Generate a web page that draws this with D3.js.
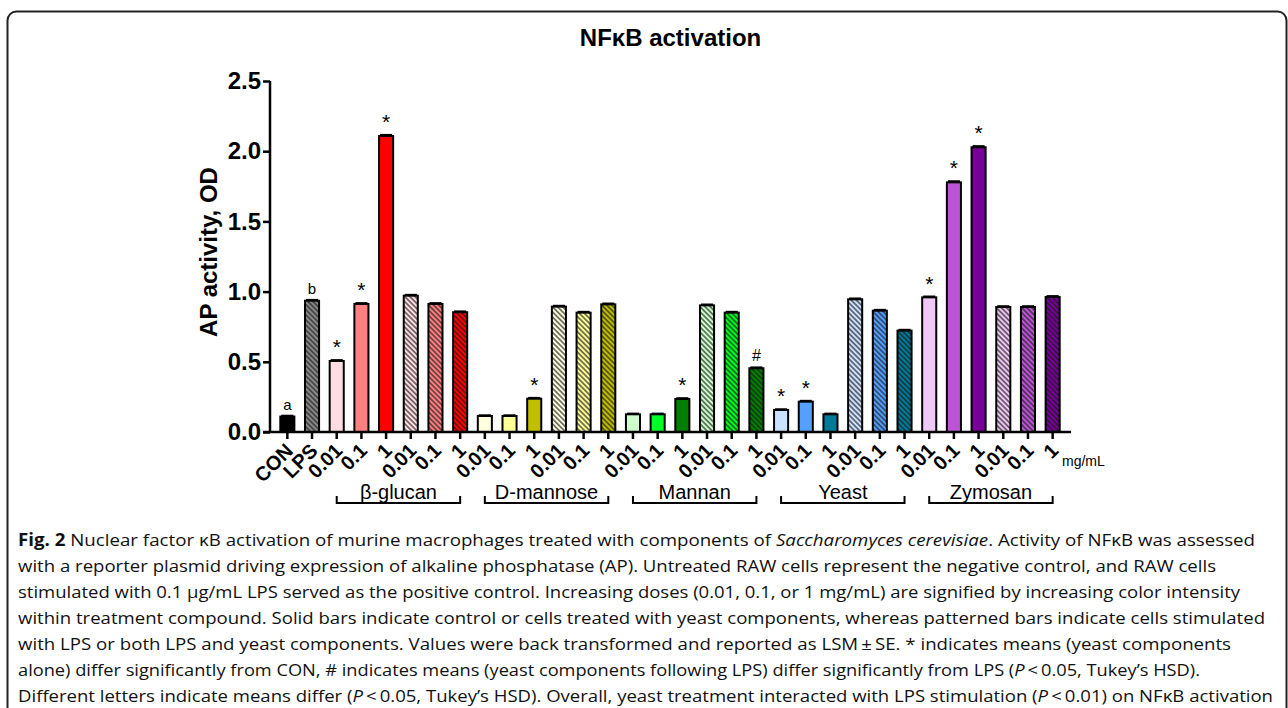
<!DOCTYPE html>
<html>
<head>
<meta charset="utf-8">
<script src="https://cdn.jsdelivr.net/npm/d3@7"></script>
<style>
  body { margin: 0; background: #fff; }
  svg { display: block; }
</style>
</head>
<body>
<div id="chart"></div>
<script>
// tick labels along the x axis (one per bar)
const tickLabels = ['CON', 'LPS',
  '0.01', '0.1', '1', '0.01', '0.1', '1',
  '0.01', '0.1', '1', '0.01', '0.1', '1',
  '0.01', '0.1', '1', '0.01', '0.1', '1',
  '0.01', '0.1', '1', '0.01', '0.1', '1',
  '0.01', '0.1', '1', '0.01', '0.1', '1'];
const groups = ['β-glucan', 'D-mannose', 'Mannan', 'Yeast', 'Zymosan'];
// 1 = cells stimulated with LPS (patterned bars)
const withLps = [0, 1,
  0, 0, 0, 1, 1, 1,
  0, 0, 0, 1, 1, 1,
  0, 0, 0, 1, 1, 1,
  0, 0, 0, 1, 1, 1,
  0, 0, 0, 1, 1, 1];
const values = [0.11, 0.935,
  0.506, 0.912, 2.108, 0.971, 0.912, 0.853,
  0.114, 0.114, 0.237, 0.893, 0.850, 0.909,
  0.126, 0.126, 0.235, 0.902, 0.850, 0.454,
  0.157, 0.216, 0.126, 0.945, 0.864, 0.722,
  0.959, 1.778, 2.028, 0.890, 0.890, 0.962];
const se = [0.006, 0.006,
  0.006, 0.006, 0.008, 0.006, 0.006, 0.006,
  0.005, 0.005, 0.006, 0.006, 0.006, 0.006,
  0.005, 0.005, 0.006, 0.006, 0.006, 0.006,
  0.005, 0.006, 0.005, 0.006, 0.006, 0.006,
  0.006, 0.008, 0.008, 0.006, 0.006, 0.006];
const marks = ['a', 'b',
  '*', '*', '*', '', '', '',
  '', '', '*', '', '', '',
  '', '', '*', '', '', '#',
  '*', '*', '', '', '', '',
  '*', '*', '*', '', '', ''];
const yTicks = [0, 0.5, 1.0, 1.5, 2.0, 2.5];

// colours: control, LPS, then three doses per compound
const ctrlColors = ['#000000', '#8a8a8a'];
const groupColors = [
  ['#ffdde3', '#ff8080', '#ff0000'],
  ['#ffffe0', '#ffff99', '#bfbf00'],
  ['#ccffcc', '#00ff22', '#008000'],
  ['#cce0ff', '#55a0ff', '#007a99'],
  ['#f0c8f5', '#bb55d5', '#770099']
];

function barColor(i) {
    if (i < 2) return ctrlColors[i];
    const g = Math.floor((i - 2) / 6);
    const dose = (i - 2) % 3;
    return groupColors[g][dose];
}

const W = 1288, H = 708;
const svg = d3.select('#chart').append('svg')
    .attr('width', W)
    .attr('height', H)
    .style('font-family', 'Arial, "Liberation Sans", sans-serif');

// outer frame (rounded box, running off the bottom)
svg.append('rect')
    .attr('x', 7.5).attr('y', 11.5)
    .attr('width', 1279).attr('height', 760)
    .attr('rx', 9)
    .attr('fill', 'none')
    .attr('stroke', '#222')
    .attr('stroke-width', 2);

const x = d3.scaleBand()
    .domain(d3.range(values.length))
    .range([275, 1065])
    .paddingInner(0.43)
    .paddingOuter(0.215);
const y = d3.scaleLinear().domain([0, 2.5]).range([432, 81]);

const axisLeftX = 270, axisRightX = 1071;

// hatch patterns for LPS-stimulated bars
const defs = svg.append('defs');
values.forEach((v, i) => {
    if (!withLps[i]) return;
    const p = defs.append('pattern')
        .attr('id', 'hatch-' + i)
        .attr('patternUnits', 'userSpaceOnUse')
        .attr('width', 3.6).attr('height', 3.6)
        .attr('patternTransform', 'rotate(-45)');
    p.append('rect').attr('width', 3.6).attr('height', 3.6).attr('fill', barColor(i));
    p.append('line')
        .attr('x1', 0.9).attr('y1', 0).attr('x2', 0.9).attr('y2', 3.6)
        .attr('stroke', '#1a1a1a').attr('stroke-width', 1.3).attr('stroke-opacity', 0.85);
});

// title
svg.append('text')
    .attr('x', (axisLeftX + axisRightX) / 2)
    .attr('y', 46)
    .attr('text-anchor', 'middle')
    .style('font-size', '24px')
    .style('font-weight', 'bold')
    .text('NFκB activation');

// bars
svg.append('g').selectAll('rect')
    .data(values)
    .enter().append('rect')
    .attr('x', (d, i) => x(i))
    .attr('y', d => y(d))
    .attr('width', x.bandwidth())
    .attr('height', d => y(0) - y(d))
    .attr('fill', (d, i) => withLps[i] ? 'url(#hatch-' + i + ')' : barColor(i))
    .attr('stroke', '#000')
    .attr('stroke-width', 2);

// error bars (SE), upper half only
const eb = svg.append('g').attr('stroke', '#000').attr('stroke-width', 2);
values.forEach((v, i) => {
    const cx = x(i) + x.bandwidth() / 2;
    eb.append('line').attr('x1', cx).attr('x2', cx).attr('y1', y(v)).attr('y2', y(v + se[i]));
    eb.append('line')
        .attr('x1', cx - x.bandwidth() / 2 + 1).attr('x2', cx + x.bandwidth() / 2 - 1)
        .attr('y1', y(v + se[i])).attr('y2', y(v + se[i]));
});

// significance marks
svg.append('g').selectAll('text')
    .data(marks)
    .enter().append('text')
    .attr('x', (d, i) => x(i) + x.bandwidth() / 2)
    .attr('y', (d, i) => {
        const top = y(values[i] + se[i]);
        if (d === '*') return top - 6;
        return top - 6;
    })
    .attr('text-anchor', 'middle')
    .style('font-size', d => d === '*' ? '21px' : (d === '#' ? '16px' : '15px'))
    .text(d => d);

// y axis
const yAxis = svg.append('g')
    .attr('transform', `translate(${axisLeftX},0)`)
    .call(d3.axisLeft(y).tickValues(yTicks).tickFormat(d3.format('.1f')).tickSize(7).tickSizeOuter(0));
yAxis.select('.domain').attr('stroke-width', 2.5).attr('d', `M0,${y(2.5)}V${y(0) + 1}`);
yAxis.selectAll('.tick line').attr('stroke-width', 2.5);
yAxis.selectAll('.tick text')
    .attr('x', -9)
    .style('font-size', '24px')
    .style('font-weight', 'bold')
    .style('font-family', 'Arial, "Liberation Sans", sans-serif');

// x axis
const xAxis = svg.append('g')
    .attr('transform', `translate(0,${y(0)})`)
    .call(d3.axisBottom(x).tickSize(7).tickSizeOuter(0).tickFormat(''));
xAxis.select('.domain').attr('stroke-width', 2.5).attr('d', `M${axisLeftX - 7},0H${axisRightX}`);
xAxis.selectAll('.tick line').attr('stroke-width', 2.5);

// rotated tick labels
svg.append('g').selectAll('text')
    .data(tickLabels)
    .enter().append('text')
    .attr('transform', (d, i) => `translate(${x(i) + x.bandwidth() / 2 + 2},447) rotate(-45)`)
    .attr('text-anchor', 'end')
    .attr('dy', '0.35em')
    .style('font-size', '20px')
    .style('font-weight', 'bold')
    .text(d => d);

svg.append('text')
    .attr('x', 1062).attr('y', 466)
    .style('font-size', '14px')
    .text('mg/mL');

// y axis title
svg.append('text')
    .attr('transform', 'translate(217,252) rotate(-90)')
    .attr('text-anchor', 'middle')
    .style('font-size', '24px')
    .style('font-weight', 'bold')
    .text('AP activity, OD');

// group brackets
const br = svg.append('g');
groups.forEach((g, k) => {
    const first = 2 + k * 6, last = first + 5;
    const x0 = x(first) + x.bandwidth() / 2;
    const x1 = x(last) + x.bandwidth() / 2;
    br.append('path')
        .attr('d', `M${x0},496V503H${x1}V496`)
        .attr('fill', 'none')
        .attr('stroke', '#000')
        .attr('stroke-width', 2);
    br.append('text')
        .attr('x', (x0 + x1) / 2)
        .attr('y', 499)
        .attr('text-anchor', 'middle')
        .style('font-size', '20px')
        .text(g);
});

// caption
const caption = [
    [['b', 'Fig. 2'], ['', ' Nuclear factor κB activation of murine macrophages treated with components of '], ['i', 'Saccharomyces cerevisiae'], ['', '. Activity of NFκB was assessed']],
    [['', 'with a reporter plasmid driving expression of alkaline phosphatase (AP). Untreated RAW cells represent the negative control, and RAW cells']],
    [['', 'stimulated with 0.1 µg/mL LPS served as the positive control. Increasing doses (0.01, 0.1, or 1 mg/mL) are signified by increasing color intensity']],
    [['', 'within treatment compound. Solid bars indicate control or cells treated with yeast components, whereas patterned bars indicate cells stimulated']],
    [['', 'with LPS or both LPS and yeast components. Values were back transformed and reported as LSM\u2009±\u2009SE. * indicates means (yeast components']],
    [['', 'alone) differ significantly from CON, # indicates means (yeast components following LPS) differ significantly from LPS ('], ['i', 'P'], ['', '\u2009<\u20090.05, Tukey\u2019s HSD).']],
    [['', 'Different letters indicate means differ ('], ['i', 'P'], ['', '\u2009<\u20090.05, Tukey\u2019s HSD). Overall, yeast treatment interacted with LPS stimulation ('], ['i', 'P'], ['', '\u2009<\u20090.01) on NFκB activation']]
];
const lineEnds = [1255, 1216, 1240, 1265, 1231, 1200, 1273];

caption.forEach((segs, li) => {
    const t = svg.append('text')
        .attr('x', 18)
        .attr('y', 546 + li * 26)
        .attr('textLength', lineEnds[li] - 18)
        .attr('lengthAdjust', 'spacingAndGlyphs')
        .style('font-family', '"Open Sans", sans-serif')
        .style('font-size', '17px')
        .attr('fill', '#111');
    segs.forEach(s => {
        const ts = t.append('tspan').text(s[1]);
        if (s[0] === 'b') ts.style('font-weight', 'bold');
        if (s[0] === 'i') ts.style('font-style', 'italic');
    });
});
</script>
</body>
</html>
